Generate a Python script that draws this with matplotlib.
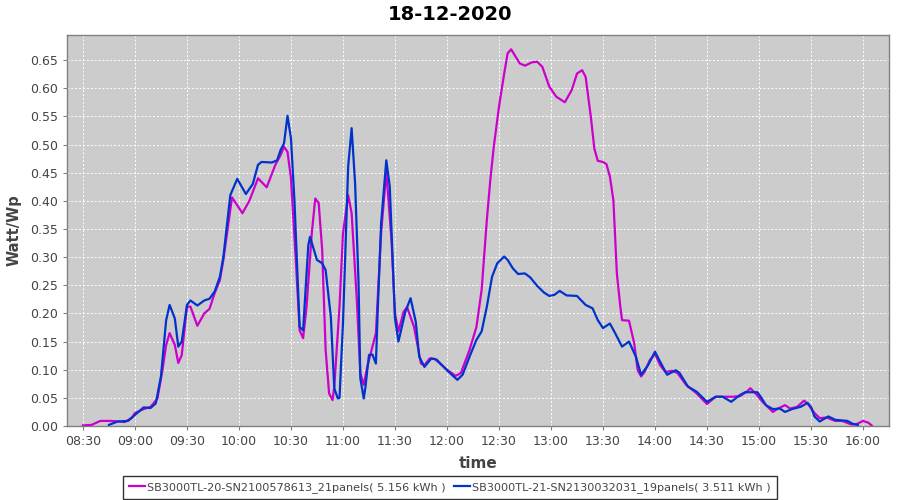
import matplotlib
matplotlib.use("Agg")
import matplotlib.pyplot as plt

title = "18-12-2020"
y_label = "Watt/Wp"
x_label = "time"
name_m = "SB3000TL-20-SN2100578613_21panels( 5.156 kWh )"
name_b = "SB3000TL-21-SN2130032031_19panels( 3.511 kWh )"

tick_labels = ["08:30", "09:00", "09:30", "10:00", "10:30", "11:00", "11:30", "12:00",
               "12:30", "13:00", "13:30", "14:00", "14:30", "15:00", "15:30", "16:00"]
y_ticks = [0.00, 0.05, 0.10, 0.15, 0.20, 0.25, 0.30, 0.35, 0.40, 0.45, 0.50, 0.55, 0.60, 0.65]

times_m = ["08:30", "08:35", "08:40", "08:46", "08:51", "08:54", "08:58", "09:00", "09:05", "09:09",
           "09:13", "09:16", "09:18", "09:20", "09:23", "09:25", "09:27", "09:30", "09:32", "09:36",
           "09:40", "09:43", "09:46", "09:49", "09:51", "09:56", "09:59", "10:02", "10:06", "10:11",
           "10:16", "10:21", "10:24", "10:26", "10:28", "10:30", "10:33", "10:35", "10:37", "10:39",
           "10:42", "10:44", "10:46", "10:48", "10:50", "10:52", "10:54", "10:55", "10:58", "11:00",
           "11:03", "11:05", "11:08", "11:10", "11:12", "11:14", "11:16", "11:19", "11:22", "11:25",
           "11:28", "11:30", "11:32", "11:35", "11:37", "11:41", "11:45", "11:47", "11:50", "11:53",
           "12:00", "12:05", "12:08", "12:13", "12:17", "12:20", "12:23", "12:25", "12:27", "12:30",
           "12:33", "12:35", "12:37", "12:39", "12:42", "12:45", "12:49", "12:52", "12:55", "12:59",
           "13:03", "13:08", "13:12", "13:15", "13:18", "13:20", "13:23", "13:25", "13:27", "13:30",
           "13:32", "13:34", "13:36", "13:38", "13:40", "13:41", "13:45", "13:48", "13:50", "13:52",
           "13:54", "13:57", "14:00", "14:03", "14:06", "14:10", "14:13", "14:18", "14:24", "14:30",
           "14:35", "14:40", "14:45", "14:49", "14:53", "14:55", "14:58", "15:02", "15:05", "15:08",
           "15:11", "15:15", "15:18", "15:22", "15:26", "15:28", "15:32", "15:35", "15:39", "15:44",
           "15:48", "15:53", "15:56", "16:00", "16:03", "16:05"]
values_m = [0.001, 0.002, 0.009, 0.009, 0.008, 0.007, 0.014, 0.023, 0.030, 0.034,
            0.049, 0.102, 0.144, 0.165, 0.144, 0.112, 0.126, 0.212, 0.212, 0.178,
            0.200, 0.208, 0.236, 0.259, 0.295, 0.406, 0.392, 0.378, 0.400, 0.440,
            0.424, 0.464, 0.481, 0.496, 0.487, 0.440, 0.283, 0.170, 0.156, 0.212,
            0.342, 0.404, 0.396, 0.313, 0.135, 0.058, 0.046, 0.070, 0.212, 0.342,
            0.410, 0.378, 0.224, 0.094, 0.073, 0.105, 0.129, 0.165, 0.342, 0.452,
            0.330, 0.200, 0.168, 0.203, 0.211, 0.176, 0.111, 0.108, 0.120, 0.119,
            0.100, 0.089, 0.094, 0.135, 0.176, 0.242, 0.366, 0.437, 0.496, 0.567,
            0.626, 0.662, 0.669, 0.659, 0.644, 0.640, 0.646, 0.647, 0.638, 0.603,
            0.585, 0.575, 0.597, 0.626, 0.632, 0.620, 0.549, 0.493, 0.471, 0.469,
            0.465, 0.443, 0.401, 0.271, 0.212, 0.188, 0.187, 0.147, 0.099, 0.088,
            0.096, 0.117, 0.128, 0.108, 0.096, 0.098, 0.094, 0.073, 0.058, 0.039,
            0.052, 0.052, 0.052, 0.053, 0.061, 0.067, 0.058, 0.043, 0.034, 0.025,
            0.031, 0.037, 0.031, 0.034, 0.045, 0.040, 0.023, 0.014, 0.015, 0.009,
            0.009, 0.003, 0.003, 0.009, 0.006, 0.001]

times_b = ["08:45", "08:50", "08:56", "08:59", "09:05", "09:09", "09:12", "09:15", "09:18", "09:20",
           "09:23", "09:25", "09:27", "09:30", "09:32", "09:36", "09:40", "09:43", "09:46", "09:49",
           "09:51", "09:55", "09:59", "10:04", "10:08", "10:11", "10:13", "10:19", "10:22", "10:24",
           "10:26", "10:28", "10:30", "10:32", "10:35", "10:37", "10:40", "10:41", "10:45", "10:48",
           "10:50", "10:53", "10:55", "10:57", "10:58", "11:00", "11:03", "11:05", "11:07", "11:09",
           "11:10", "11:12", "11:13", "11:15", "11:17", "11:19", "11:20", "11:22", "11:25", "11:27",
           "11:30", "11:32", "11:36", "11:39", "11:42", "11:44", "11:47", "11:51", "11:54", "12:00",
           "12:06", "12:09", "12:13", "12:17", "12:20", "12:23", "12:26", "12:29", "12:33", "12:35",
           "12:38", "12:41", "12:45", "12:48", "12:52", "12:56", "12:59", "13:02", "13:05", "13:09",
           "13:15", "13:20", "13:24", "13:27", "13:30", "13:34", "13:37", "13:41", "13:45", "13:49",
           "13:52", "13:56", "14:00", "14:03", "14:07", "14:12", "14:14", "14:19", "14:24", "14:30",
           "14:35", "14:39", "14:44", "14:49", "14:52", "14:59", "15:01", "15:04", "15:08", "15:12",
           "15:15", "15:19", "15:24", "15:28", "15:30", "15:32", "15:35", "15:40", "15:44", "15:51",
           "15:54", "15:57"]
values_b = [0.002, 0.008, 0.009, 0.017, 0.033, 0.032, 0.040, 0.088, 0.188, 0.215,
            0.191, 0.141, 0.150, 0.215, 0.223, 0.214, 0.223, 0.226, 0.239, 0.265,
            0.300, 0.410, 0.439, 0.412, 0.430, 0.464, 0.469, 0.468, 0.472, 0.490,
            0.502, 0.551, 0.511, 0.401, 0.176, 0.170, 0.321, 0.336, 0.295, 0.289,
            0.277, 0.194, 0.067, 0.049, 0.050, 0.182, 0.461, 0.529, 0.431, 0.253,
            0.085, 0.049, 0.070, 0.126, 0.127, 0.111, 0.200, 0.360, 0.472, 0.425,
            0.191, 0.150, 0.203, 0.227, 0.185, 0.123, 0.105, 0.120, 0.118, 0.099,
            0.082, 0.091, 0.123, 0.153, 0.168, 0.212, 0.265, 0.289, 0.301, 0.295,
            0.280, 0.270, 0.271, 0.264, 0.249, 0.237, 0.231, 0.233, 0.240, 0.232,
            0.231, 0.215, 0.209, 0.188, 0.174, 0.182, 0.165, 0.141, 0.150, 0.123,
            0.091, 0.108, 0.132, 0.114, 0.091, 0.099, 0.095, 0.070, 0.061, 0.043,
            0.052, 0.052, 0.043, 0.055, 0.060, 0.060, 0.052, 0.037, 0.030, 0.031,
            0.025, 0.030, 0.034, 0.041, 0.034, 0.017, 0.008, 0.017, 0.011, 0.009,
            0.004, 0.002]


def to_min(s):
    h, m = s.split(":")
    return int(h) * 60 + int(m)


fig = plt.figure(figsize=(9, 5), dpi=100)
ax = fig.add_axes([67 / 900, 1 - 426 / 500, (889 - 67) / 900, (426 - 35) / 500])
ax.set_facecolor("#cccccc")

ax.plot([to_min(t) for t in times_m], values_m, color="#cc00cc", lw=1.6, label=name_m,
        solid_joinstyle="round", zorder=3)
ax.plot([to_min(t) for t in times_b], values_b, color="#0033cc", lw=1.6, label=name_b,
        solid_joinstyle="round", zorder=3)

ax.set_xlim(500.8, 975)
ax.set_ylim(0, 0.6945)
ax.set_xticks([to_min(t) for t in tick_labels])
ax.set_xticklabels(tick_labels)
ax.set_yticks(y_ticks)
ax.set_yticklabels([f"{v:.2f}" for v in y_ticks])
ax.grid(True, color="white", linestyle=(0, (2, 2)), linewidth=0.7)
ax.set_axisbelow(True)
for sp in ax.spines.values():
    sp.set_color("#808080")
    sp.set_linewidth(1.0)
ax.tick_params(axis="both", colors="#808080", labelcolor="#444444", labelsize=9,
               length=3, width=0.8)

fig.text(0.5, 1 - 14 / 500, title, fontsize=14, fontweight="bold", ha="center", va="center")
ax.set_ylabel(y_label, fontsize=10.5, fontweight="bold", color="#444444", labelpad=6)
ax.set_xlabel(x_label, fontsize=11, fontweight="bold", color="#444444", labelpad=6)

leg = fig.legend(loc="lower center", bbox_to_anchor=(0.5, 0.0), ncol=2, frameon=True,
                 fancybox=False, fontsize=8.1, handlelength=1.4, handletextpad=0.2,
                 columnspacing=0.7, borderpad=0.55, borderaxespad=0.1)
leg.get_frame().set_edgecolor("black")
leg.get_frame().set_linewidth(1.0)
for t in leg.get_texts():
    t.set_color("#444444")

fig.savefig("out.png", dpi=100)
